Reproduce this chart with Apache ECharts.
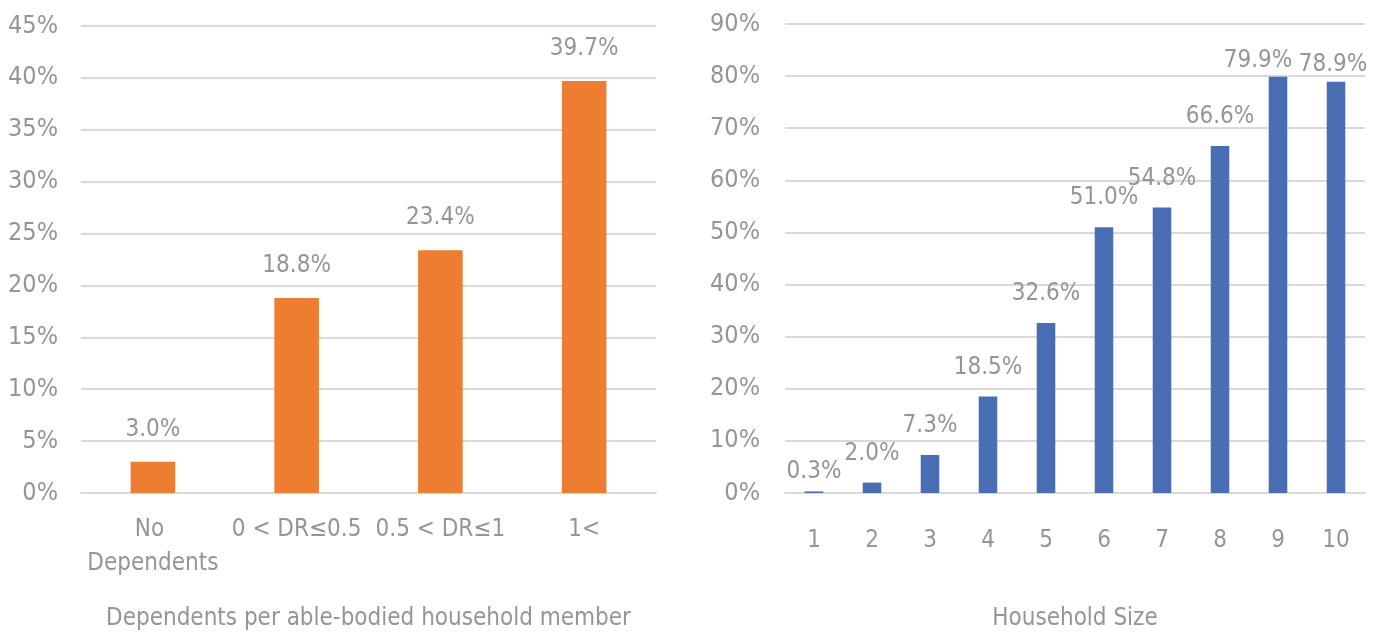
<!DOCTYPE html>
<html><head><meta charset="utf-8">
<script src="https://cdn.jsdelivr.net/npm/echarts@6/dist/echarts.min.js"></script>
<style>html,body{margin:0;padding:0;background:#fff}#c{width:1383px;height:635px}</style>
</head><body><div id="c"></div>
<script>
const dependentCategories = ['No Dependents', '0 < DR≤0.5', '0.5 < DR≤1', '1<'];
const dependentValues = [3.0, 18.8, 23.4, 39.7];
const leftTicks = {min: 0, max: 45, interval: 5};
const householdCategories = ['1','2','3','4','5','6','7','8','9','10'];
const householdValues = [0.3, 2.0, 7.3, 18.5, 32.6, 51.0, 54.8, 66.6, 79.9, 78.9];
const rightTicks = {min: 0, max: 90, interval: 10};
const leftTitle = 'Dependents per able-bodied household member';
const rightTitle = 'Household Size';

const FONT = "'Liberation Sans Narrow', 'DejaVu Sans Condensed', sans-serif";
const GRAY = '#959595';
const GRID = '#d9d9d9';

function yAxis(gi, t, margin) {
  return {
    type: 'value', gridIndex: gi, min: t.min, max: t.max, interval: t.interval,
    axisLine: {show: false}, axisTick: {show: false},
    axisLabel: {color: GRAY, fontFamily: FONT, fontSize: 25, margin: margin, formatter: v => v + '%'},
    splitLine: {lineStyle: {color: GRID, width: 2}}
  };
}
function xAxis(gi, cats, name, margin, nameGap) {
  return {
    type: 'category', gridIndex: gi, data: cats,
    axisLine: {lineStyle: {color: GRID, width: 2}}, axisTick: {show: false},
    axisLabel: {color: GRAY, fontFamily: FONT, fontSize: 24, margin: margin, interval: 0,
      width: 150, overflow: 'break', lineHeight: 34},
    name: name, nameLocation: 'middle', nameGap: nameGap,
    nameTextStyle: {color: GRAY, fontFamily: FONT, fontSize: 24}
  };
}
const labelBase = {show: true, position: 'top', color: GRAY, fontFamily: FONT, fontSize: 24,
  formatter: p => p.value.toFixed(1) + '%'};

const chart = echarts.init(document.getElementById('c'));
chart.setOption({
  animation: false,
  grid: [
    {left: 81, right: 727, top: 26, bottom: 142, outerBoundsMode: 'none', containLabel: false},
    {left: 785, right: 18, top: 24, bottom: 142, outerBoundsMode: 'none', containLabel: false}
  ],
  xAxis: [xAxis(0, dependentCategories, leftTitle, 20, 114), xAxis(1, householdCategories, rightTitle, 31, 114)],
  yAxis: [yAxis(0, leftTicks, 23), yAxis(1, rightTicks, 25)],
  series: [
    {type: 'bar', xAxisIndex: 0, yAxisIndex: 0, data: dependentValues, barWidth: '31%',
      itemStyle: {color: '#ED7D31'}, label: Object.assign({}, labelBase, {distance: 20})},
    {type: 'bar', xAxisIndex: 1, yAxisIndex: 1, barWidth: '32%',
      data: householdValues.map((v, i) => {
        const d = {value: v};
        if (i === 8) d.label = {distance: 4, offset: [-20, 0]};
        else if (i === 9) d.label = {distance: 5, offset: [-3, 0]};
        else if (i === 0) d.label = {distance: 8};
        return d;
      }),
      itemStyle: {color: '#4A6EB4'}, label: Object.assign({}, labelBase, {distance: 17})}
  ]
});
</script></body></html>
